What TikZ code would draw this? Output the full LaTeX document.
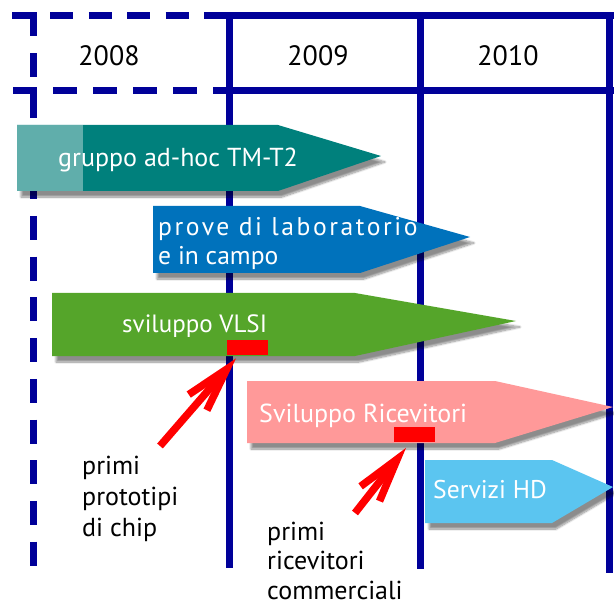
\documentclass[tikz,border=0pt]{standalone}
\usepackage{fontspec}
\setmainfont{PT Sans}
\usetikzlibrary{arrows.meta,shadows.blur}
\definecolor{gridblue}{RGB}{0,0,153}
\definecolor{tealdark}{RGB}{0,128,124}
\definecolor{teallight}{RGB}{96,174,171}
\definecolor{labblue}{RGB}{0,114,188}
\definecolor{vlsigreen}{RGB}{85,165,42}
\definecolor{ricpink}{RGB}{255,153,153}
\definecolor{hdblue}{RGB}{91,197,240}
\begin{document}
\begin{tikzpicture}[x=1pt,y=-1pt,
  gridline/.style={gridblue, line width=7pt},
  dgridline/.style={gridblue, line width=7pt},
  barshape/.style={blur shadow={shadow xshift=4pt,shadow yshift=-6pt,shadow blur steps=10,shadow opacity=45}},
  bartext/.style={text=white, font=\fontsize{26}{30}\selectfont, anchor=base west, inner sep=0pt},
  yeartext/.style={font=\fontsize{28}{32}\selectfont, anchor=base, inner sep=0pt},
  lbl/.style={font=\fontsize{26}{31}\selectfont, align=left, anchor=base west, inner sep=0pt},
  redbar/.style={fill=red, draw=none, minimum width=41pt, minimum height=15pt, inner sep=0pt, anchor=north west},
  redarrow/.style={red, line width=7.5pt, -{Straight Barb[length=44pt,width=24pt,sharp]}}
]
\useasboundingbox (0,0) rectangle (614,607);
% grid
\draw[gridline] (229,16) -- (614,16);
\draw[gridline] (229,91) -- (614,91);
\draw[gridline] (229.5,12.5) -- (229.5,568);
\draw[gridline] (420.5,12.5) -- (420.5,569);
\draw[gridline] (609,12.5) -- (609,573);
\draw[dgridline, dash pattern=on 23pt off 15.4pt] (12,16) -- (229,16);
\draw[dgridline, dash pattern=on 24pt off 16pt] (13,91) -- (229,91);
\draw[dgridline, dash pattern=on 24pt off 16.7pt] (33,12.5) -- (33,569);
% years
\node[yeartext] (y2008) at (109,66) {2008};
\node[yeartext] (y2009) at (318,66) {2009};
\node[yeartext] (y2010) at (508,66) {2010};
% bars
\fill[tealdark, barshape] (17,125) -- (278,125) -- (381,156) -- (278,191) -- (17,191) -- cycle;
\fill[teallight] (17,125) rectangle (83,191);
\fill[labblue, barshape] (153,206) -- (360,206) -- (470,237) -- (360,273) -- (153,273) -- cycle;
\fill[vlsigreen, barshape] (52,293) -- (355,293) -- (516,321) -- (355,356) -- (52,356) -- cycle;
\fill[ricpink, barshape] (247,381) -- (495,381) -- (613,407) -- (495,443) -- (247,443) -- cycle;
\fill[hdblue, barshape] (425,460) -- (552,460) -- (613,487) -- (552,523) -- (425,523) -- cycle;
% bar texts
\node[bartext] (tgruppo) at (58,167) {gruppo ad-hoc TM-T2};
\node[bartext, font=\addfontfeatures{LetterSpace=10}\fontsize{25.6}{30}\selectfont] (tprove1) at (158,236) {prove di laboratorio};
\node[bartext, font=\fontsize{25.6}{30}\selectfont] (tprove2) at (158,265) {e in campo};
\node[bartext, font=\fontsize{25}{30}\selectfont] (tvlsi) at (122,332) {sviluppo VLSI};
\node[bartext] (tric) at (259,422) {Sviluppo Ricevitori};
\node[bartext, font=\fontsize{25.6}{30}\selectfont] (thd) at (433,498) {Servizi HD};
% milestones
\node[redbar] (rb1) at (227,340) {};
\node[redbar] (rb2) at (394,427) {};
\node[lbl] (lab1) at (82,536) {primi\\prototipi\\di chip};
\node[lbl, font=\fontsize{26}{29.5}\selectfont] (lab2) at (267,599) {primi\\ricevitori\\commerciali};
\coordinate (tail1) at (160,446);
\coordinate (tail2) at (355,513);
\draw[redarrow] (tail1) -- ([shift={(9,3)}]rb1.south west);
\draw[redarrow] (tail2) -- ([shift={(12,5.5)}]rb2.south west);
\end{tikzpicture}
\end{document}
